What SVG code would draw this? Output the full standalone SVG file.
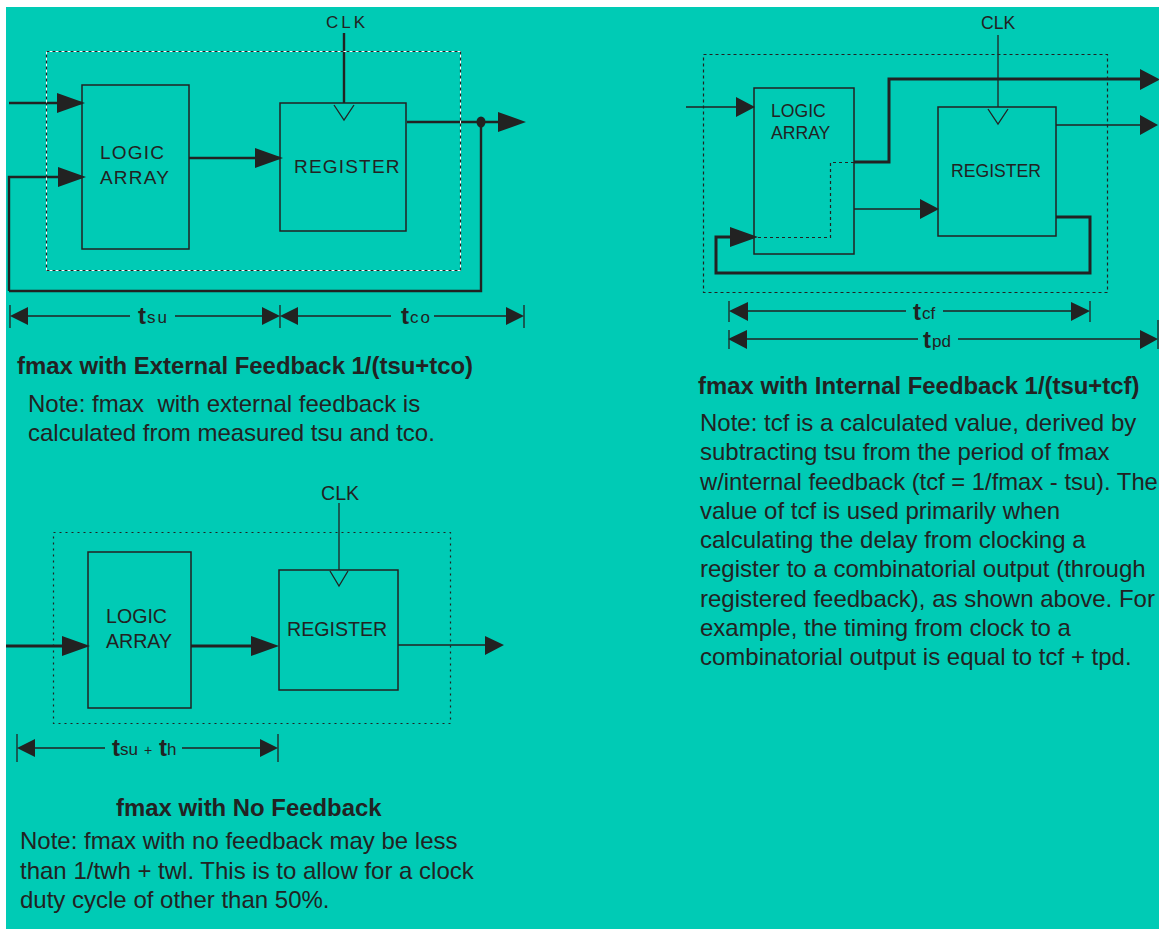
<svg xmlns="http://www.w3.org/2000/svg" width="1159" height="929" viewBox="0 0 1159 929">
<style>
text{font-family:"Liberation Sans",Arial,sans-serif;fill:#222}
.box{fill:none;stroke:#222;stroke-width:1.5}
.l{fill:none;stroke:#222;stroke-width:1.3}
.m{fill:none;stroke:#222;stroke-width:2.400}
.h{fill:none;stroke:#222;stroke-width:3}
.a{fill:#222;stroke:none}
.d{fill:none;stroke:#222;stroke-width:1.200;stroke-dasharray:3 3}
.lab{font-size:19px;letter-spacing:1.2px}
.note{font-size:24px}
.head{font-size:23.9px;font-weight:bold}
.t{font-size:24px;font-weight:bold}
.s{font-size:17px}
.r{font-size:17.6px}
.b{font-size:19.6px}
</style>
<rect x="6" y="7" width="1153" height="922" fill="#00cbb5"/>
<g id="connectors">
<path class="m" d="M9 103H82M9 291V177H82M189 158H280M407 122H500M481 122V291H9"/>
<path class="m" d="M344 33V103"/>
<path class="a" d="M57 93L85 103L57 113ZM58 167L86 177L58 187ZM255 148L283 158L255 168ZM498 112L526 122L498 132Z"/>
<ellipse class="a" cx="481" cy="122" rx="4.5" ry="5.5"/>
<path class="l" d="M334 105L344 120L354 105"/>
<path class="l" d="M10 305V328M280 305V328M524 305V328M28 316H130M175 316H262M298 316H391M434 316H506"/>
<path class="a" d="M10 316L28 307V325ZM262 307L280 316L262 325ZM280 316L298 307V325ZM506 307L524 316L506 325Z"/>
<path class="l" d="M686 107H754M854 209H922M1056 125H1142M998 35V107"/>
<path class="h" d="M854 162H889V79H1142M1056 217H1090V273H716V237H735"/>
<path class="d" d="M854 162.500H830.500V237.500H754"/>
<path class="a" d="M736 97L755 107L736 117ZM920 199L939 209L920 219ZM1140 69L1159 79V80L1140 90ZM1140 115L1158 125L1140 135ZM730 227L758 237L730 247Z"/>
<path class="l" d="M988 109L998 124L1008 109"/>
<path class="l" d="M729 301V322M1090 301V322M729 330V349M1158 320V349M748 311H906M943 311H1071M747 339H918M958 339H1140"/>
<path class="a" d="M729 311L748 302V321ZM1071 302L1090 311L1071 321ZM728 339L747 330V349ZM1140 330L1158 339L1140 349Z"/>
<path class="h" d="M6 646H64M191 646H252"/>
<path class="l" d="M398 645H486M339 503V570"/>
<path class="a" d="M62 636L90 646L62 656ZM251 636L279 646L251 656ZM485 636L504 645L485 655Z"/>
<path class="l" d="M330 571L339 586L348 571"/>
<path class="l" d="M17 734V762M278 734V762M35 748H105M182 748H260"/>
<path class="a" d="M17 748L35 739V757ZM260 739L278 748L260 757Z"/>
</g>
<g id="node-external">
<rect x="46.500" y="51.500" width="414" height="219" fill="none" stroke="#fff" stroke-width="1"/>
<rect x="46.500" y="51.500" width="414" height="219" class="d"/>
<g id="logic-1"><rect class="box" x="82" y="85" width="107" height="164"/>
<text class="lab" x="100" y="159">LOGIC</text><text class="lab" x="100" y="184">ARRAY</text></g>
<g id="register-1"><rect class="box" x="280" y="103" width="126" height="128"/>
<text class="lab" x="294" y="173">REGISTER</text></g>
<text x="326" y="28" font-size="17" letter-spacing="3">CLK</text>
<text class="t" x="138" y="324">t</text><text class="s" x="147" y="323" letter-spacing="2">su</text>
<text class="t" x="401" y="324">t</text><text class="s" x="410" y="323" letter-spacing="2">co</text>
</g>
<g id="node-internal">
<rect x="703.500" y="54.500" width="404" height="238" class="d"/>
<g id="logic-2"><rect class="box" x="754" y="88" width="100" height="166"/>
<text class="r" x="771" y="117">LOGIC</text><text class="r" x="771" y="139">ARRAY</text></g>
<g id="register-2"><rect class="box" x="938" y="107" width="118" height="129"/>
<text class="r" x="951" y="177">REGISTER</text></g>
<text class="r" x="981" y="29">CLK</text>
<text class="t" x="913" y="320">t</text><text class="s" x="922" y="319">cf</text>
<text class="t" x="923" y="348">t</text><text class="s" x="932" y="347">pd</text>
</g>
<g id="node-nofeedback">
<rect x="53.500" y="532.500" width="397" height="191" class="d" style="stroke-dasharray:2 4"/>
<g id="logic-3"><rect class="box" x="88" y="552" width="103" height="156"/>
<text class="b" x="106" y="623">LOGIC</text><text class="b" x="106" y="648">ARRAY</text></g>
<g id="register-3"><rect class="box" x="279" y="570" width="119" height="120"/>
<text class="b" x="287" y="636">REGISTER</text></g>
<text class="b" x="321" y="500">CLK</text>
<text class="t" x="112" y="756">t</text><text class="s" x="120" y="755">su</text><text x="144" y="755" font-size="14">+</text><text class="t" x="159" y="756">t</text><text class="s" x="167" y="755">h</text>
</g>
<g id="captions">
<text class="head" x="17" y="374">fmax with External Feedback 1/(tsu+tco)</text>
<text class="note" x="28" y="412" style="white-space:pre">Note: fmax  with external feedback is</text>
<text class="note" x="28" y="441">calculated from measured tsu and tco.</text>
<text class="head" x="698" y="394">fmax with Internal Feedback 1/(tsu+tcf)</text>
<text class="note" x="700" y="431">Note: tcf is a calculated value, derived by</text>
<text class="note" x="700" y="460">subtracting tsu from the period of fmax</text>
<text class="note" x="700" y="490" style="font-size:23.8px">w/internal feedback (tcf = 1/fmax - tsu). The</text>
<text class="note" x="700" y="519">value of tcf is used primarily when</text>
<text class="note" x="700" y="548">calculating the delay from clocking a</text>
<text class="note" x="700" y="577">register to a combinatorial output (through</text>
<text class="note" x="700" y="607">registered feedback), as shown above. For</text>
<text class="note" x="700" y="636">example, the timing from clock to a</text>
<text class="note" x="700" y="665">combinatorial output is equal to tcf + tpd.</text>
<text class="head" x="116" y="816">fmax with No Feedback</text>
<text class="note" x="20" y="849">Note: fmax with no feedback may be less</text>
<text class="note" x="20" y="879">than 1/twh + twl. This is to allow for a clock</text>
<text class="note" x="20" y="908">duty cycle of other than 50%.</text>
</g>
</svg>
